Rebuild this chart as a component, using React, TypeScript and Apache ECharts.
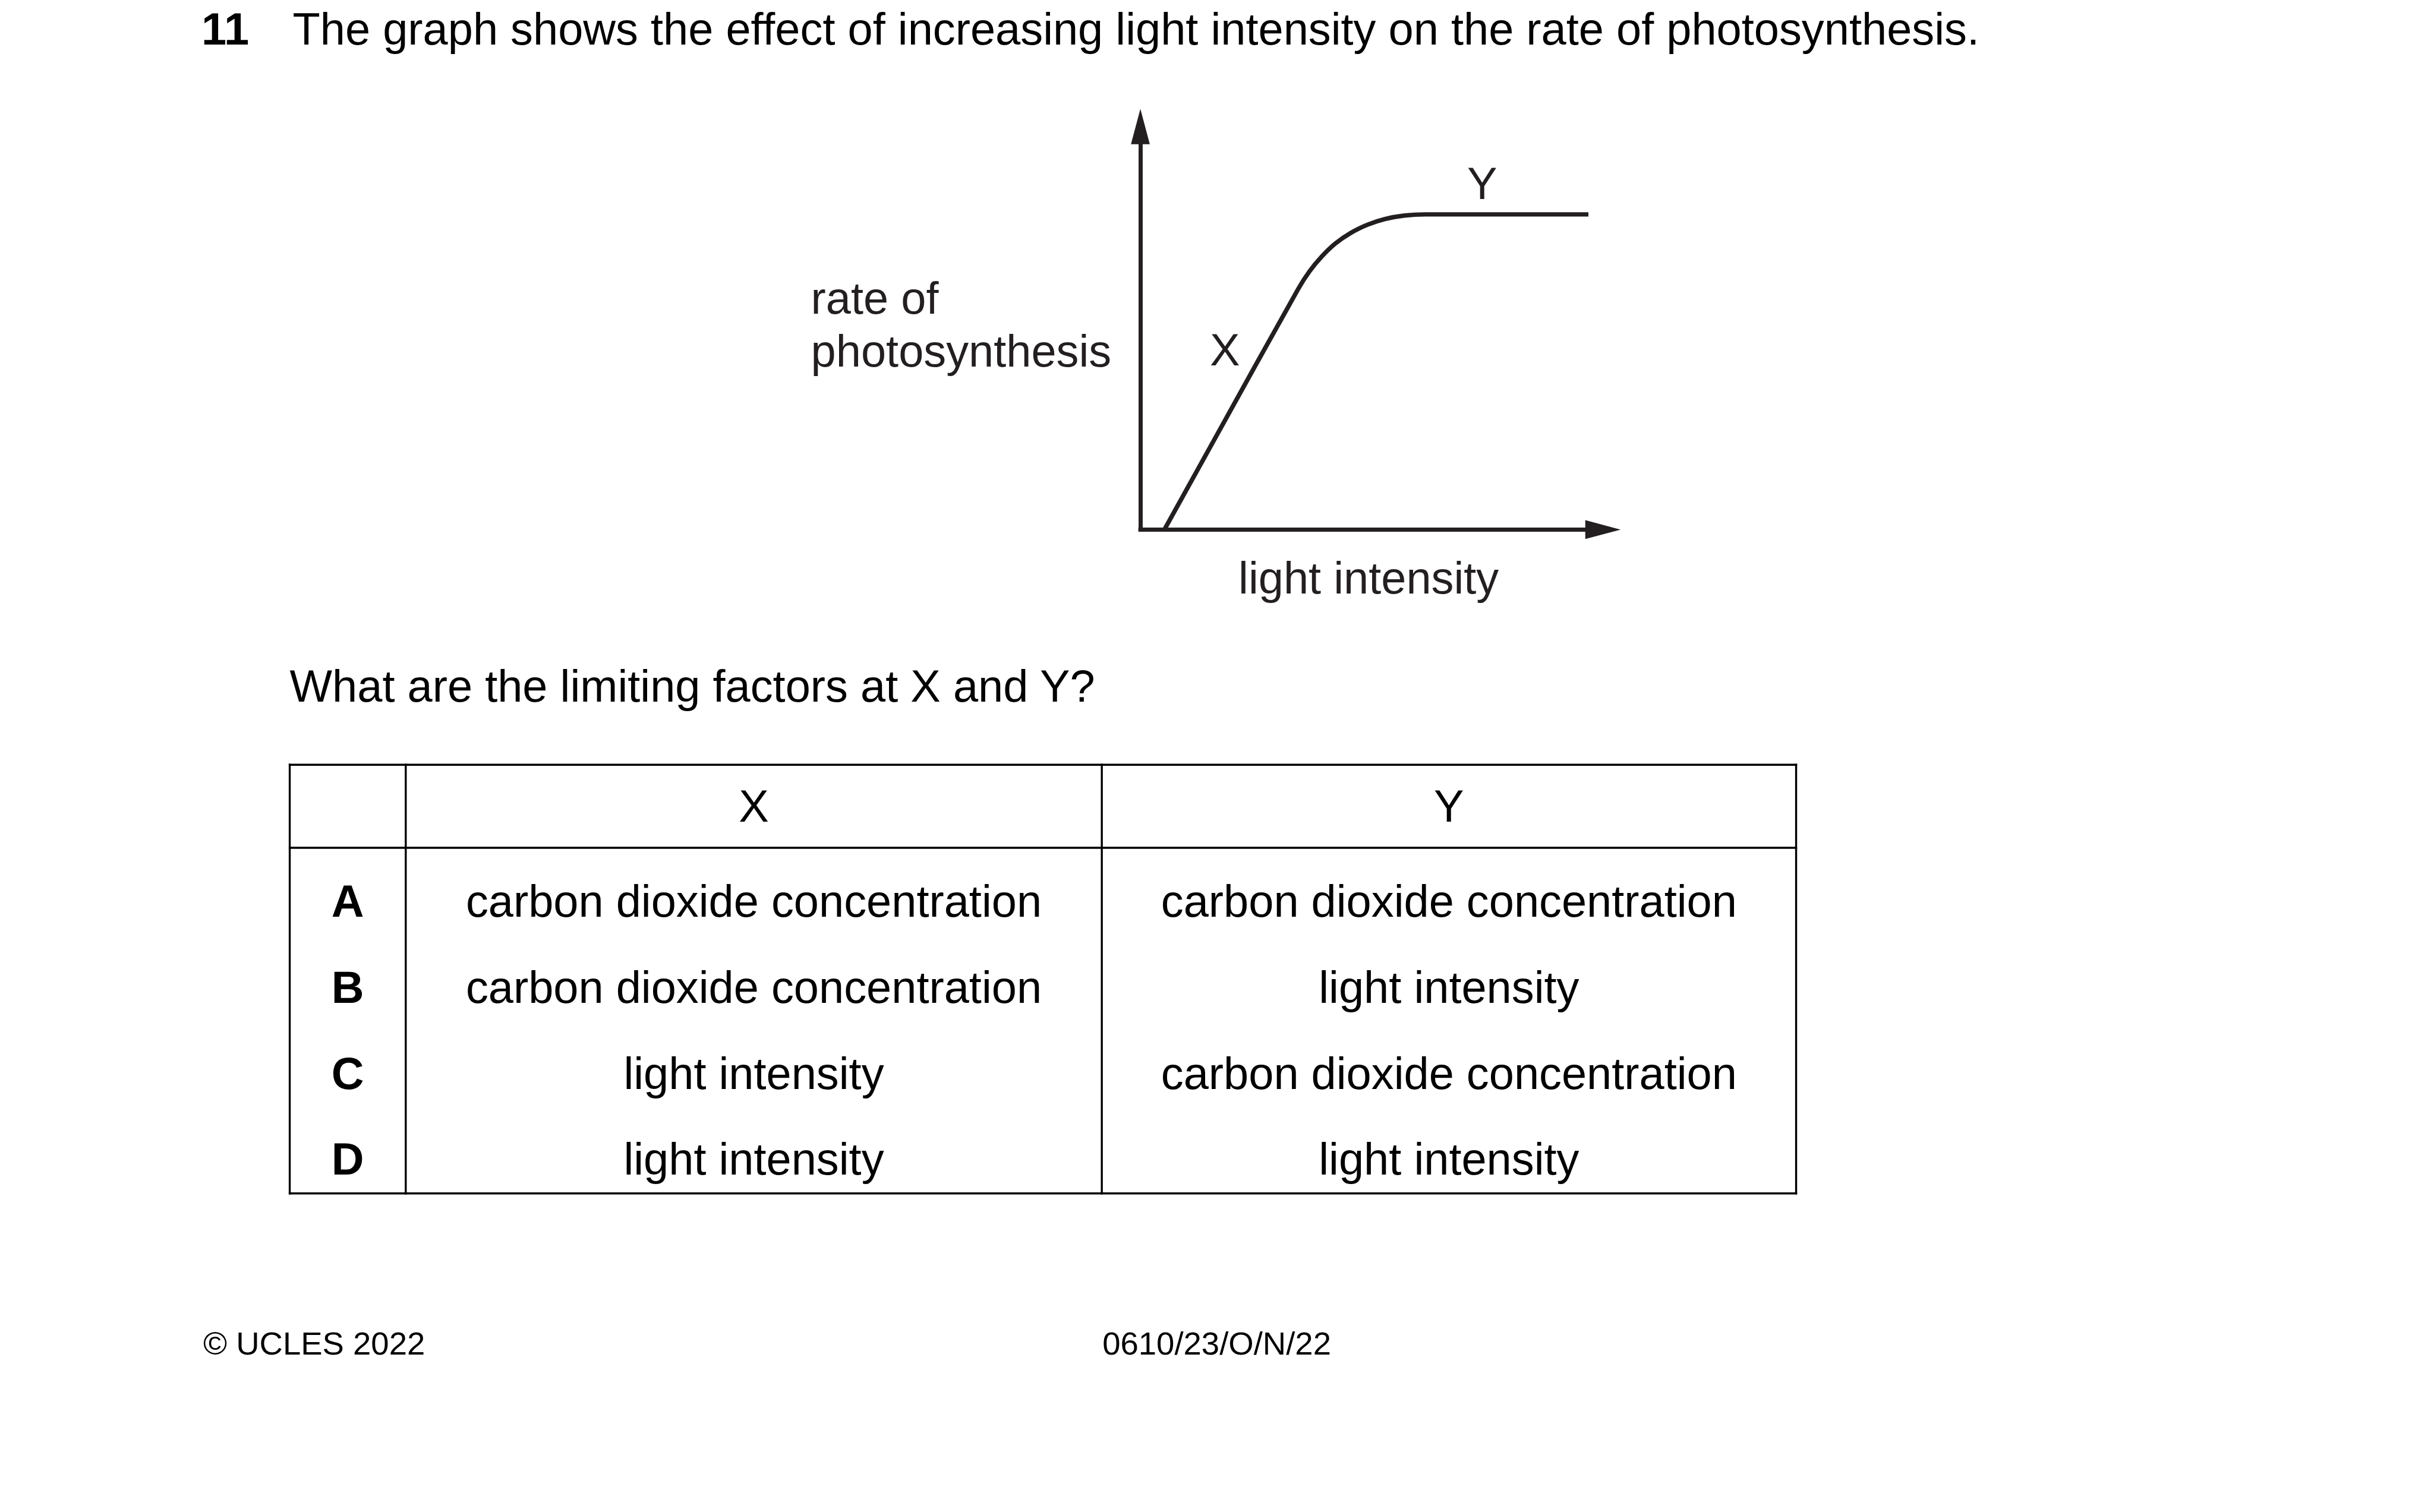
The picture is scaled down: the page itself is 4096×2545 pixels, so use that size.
import React, { useEffect, useRef } from "react";
import * as echarts from "echarts";

// ---- data ----
const lightIntensity = [0.54, 3.55, 3.8, 4.08, 4.39, 4.73, 5.1, 5.5, 5.94, 6.4, 10.13];
const photosynthesisRate = [0, 6.25, 6.7, 7.09, 7.43, 7.7, 7.91, 8.06, 8.15, 8.18, 8.18];
const questionNumber = "11";
const questionText = "The graph shows the effect of increasing light intensity on the rate of photosynthesis.";
const yAxisTitle = ["rate of", "photosynthesis"];
const xAxisTitle = "light intensity";
const pointLabels = ["X", "Y"];
const prompt = "What are the limiting factors at X and Y?";
const columnHeads = ["X", "Y"];
const rowLetters = ["A", "B", "C", "D"];
const factorsAtX = [
  "carbon dioxide concentration",
  "carbon dioxide concentration",
  "light intensity",
  "light intensity",
];
const factorsAtY = [
  "carbon dioxide concentration",
  "light intensity",
  "carbon dioxide concentration",
  "light intensity",
];
const footerLeft = "© UCLES 2022";
const footerCentre = "0610/23/O/N/22";

// ---- layout (reference pixels, scaled by S) ----
const S = 0.991;
const FONT = '"Liberation Sans", Arial, Helvetica, sans-serif';
const INK = "#231f20";
const BLACK = "#000000";
const FS = 76.5;

function txt(
  text: string,
  x: number,
  baseline: number,
  size: number,
  opts: { bold?: boolean; color?: string; align?: string } = {}
) {
  const align = opts.align || "left";
  return {
    type: "text",
    x: x * S,
    y: (baseline - 0.3465 * size) * S,
    silent: true,
    style: {
      text,
      fontSize: size * S,
      fontFamily: FONT,
      fontWeight: opts.bold ? "bold" : "normal",
      fill: opts.color || BLACK,
      align,
      textAlign: align,
      verticalAlign: "middle",
      textVerticalAlign: "middle",
    },
  };
}

function hline(x1: number, x2: number, y: number, w: number) {
  return {
    type: "line",
    silent: true,
    shape: { x1: x1 * S, y1: y * S, x2: x2 * S, y2: y * S },
    style: { stroke: BLACK, lineWidth: w * S, lineCap: "square" },
  };
}
function vline(x: number, y1: number, y2: number, w: number) {
  return {
    type: "line",
    silent: true,
    shape: { x1: x * S, y1: y1 * S, x2: x * S, y2: y2 * S },
    style: { stroke: BLACK, lineWidth: w * S, lineCap: "square" },
  };
}

export default function App() {
  const ref = useRef<HTMLDivElement>(null);

  useEffect(() => {
    if (!ref.current) return;
    const chart = echarts.init(ref.current, undefined, { renderer: "svg" });

    const GRID_L = 1936.5;
    const GRID_T = 245;
    const GRID_R = 2692;
    const GRID_B = 899.5;

    const axisCommon = {
      type: "value",
      min: 0,
      max: 10,
      axisTick: { show: false },
      axisLabel: { show: false },
      splitLine: { show: false },
      axisLine: {
        show: true,
        onZero: false,
        symbol: ["none", "triangle"],
        symbolSize: [32 * S, 60 * S],
        symbolOffset: [0, 30 * S],
        lineStyle: { color: INK, width: 7 * S, cap: "square" },
      },
    };

    // table geometry
    const TL = 492, TR = 3050, TT = 1299, TB = 2027, C1 = 689, C2 = 1871, HB = 1440;
    const LW = 3.4;
    const colX = (C1 + C2) / 2;
    const colY = (C2 + TR) / 2;
    const colL = (TL + C1) / 2;
    const rowBase = [1557, 1703, 1849, 1995];

    const elements: any[] = [
      txt(questionNumber, 342, 75, FS, { bold: true }),
      txt(questionText, 497, 75, FS),
      txt(yAxisTitle[0], 1377, 533, FS, { color: INK }),
      txt(yAxisTitle[1], 1377, 622, FS, { color: INK }),
      txt(pointLabels[0], 2080, 620, FS, { color: INK, align: "center" }),
      txt(pointLabels[1], 2517, 338, FS, { color: INK, align: "center" }),
      txt(xAxisTitle, 2103, 1008, FS, { color: INK }),
      txt(prompt, 492, 1191, FS),
      // table lines
      hline(TL, TR, TT, LW),
      hline(TL, TR, TB, LW),
      hline(TL, TR, HB, LW),
      vline(TL, TT, TB, LW),
      vline(C1, TT, TB, LW),
      vline(C2, TT, TB, LW),
      vline(TR, TT, TB, LW),
      txt(columnHeads[0], colX, 1395, FS, { align: "center" }),
      txt(columnHeads[1], colY, 1395, FS, { align: "center" }),
      txt(footerLeft, 345, 2301, 55),
      txt(footerCentre, 1872, 2301, 55),
    ];
    rowLetters.forEach((r, i) => {
      elements.push(txt(r, colL, rowBase[i], FS, { bold: true, align: "center" }));
      elements.push(txt(factorsAtX[i], colX, rowBase[i], FS, { align: "center" }));
      elements.push(txt(factorsAtY[i], colY, rowBase[i], FS, { align: "center" }));
    });

    chart.setOption({
      animation: false,
      backgroundColor: "#ffffff",
      grid: {
        left: GRID_L * S,
        top: GRID_T * S,
        width: (GRID_R - GRID_L) * S,
        height: (GRID_B - GRID_T) * S,
        containLabel: false,
      },
      xAxis: axisCommon,
      yAxis: axisCommon,
      series: [
        {
          type: "line",
          data: lightIntensity.map((x, i) => [x, photosynthesisRate[i]]),
          showSymbol: false,
          symbol: "none",
          smooth: 0.4,
          clip: false,
          silent: true,
          lineStyle: { color: INK, width: 7.5 * S, cap: "butt", join: "round" },
        },
      ],
      graphic: { elements },
    });

    return () => chart.dispose();
  }, []);

  return (
    <div
      ref={ref}
      style={{ position: "absolute", left: 0, top: 0, width: 4096, height: 2545, background: "#fff" }}
    />
  );
}
